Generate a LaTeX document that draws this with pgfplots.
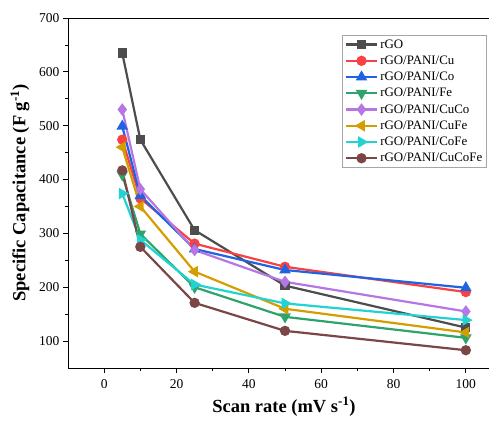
\documentclass[border=0pt]{standalone}
\usepackage{fontspec}
\setmainfont{Liberation Serif}
\usepackage{pgfplots}
\pgfplotsset{compat=1.18}
\definecolor{cGO}{HTML}{4D4D4D}
\definecolor{cCu}{HTML}{F94144}
\definecolor{cCo}{HTML}{1F63E0}
\definecolor{cFe}{HTML}{2EA36B}
\definecolor{cCuCo}{HTML}{B676E3}
\definecolor{cCuFe}{HTML}{D49E00}
\definecolor{cCoFe}{HTML}{22D3D1}
\definecolor{cCuCoFe}{HTML}{7A4646}
\begin{document}
\begin{tikzpicture}
\begin{axis}[
  scale only axis, width=421pt, height=350pt,
  xmin=-10, xmax=106.4, ymin=50, ymax=700,
  xtick={0,20,...,100}, minor x tick num=1,
  ytick={100,200,...,700}, minor y tick num=1,
  axis x line*=box, axis y line*=left,
  xtick pos=bottom, ytick pos=left,
  tick align=outside, major tick length=5pt, minor tick length=3pt,
  tick style={black, line width=0.8pt},
  axis line style={black, line width=1pt},
  tick label style={font=\fontsize{13.5}{14}\selectfont},
  xticklabel style={yshift=-3pt},
  /pgf/number format/assume math mode=true,
  xlabel={\textbf{Scan rate (mV s\textsuperscript{-1})}},
  ylabel={\textbf{Specific Capacitance (F g\textsuperscript{-1})}},
  label style={font=\fontsize{18.5}{19}\selectfont},
  xlabel style={at={(axis description cs:0.513,-0.126)}, anchor=base},
  ylabel style={at={(axis description cs:-0.114,0.5)}, anchor=center},
  every axis plot/.append style={line width=2.2pt, mark size=4pt},
  legend style={at={(0.9945,0.951)}, anchor=north east, draw=gray!70, line width=0.8pt,
    font=\fontsize{12.9}{15}\selectfont, row sep=2.2pt, inner sep=2pt, cells={anchor=west}},
  legend image code/.code={\draw[mark repeat=2,mark phase=2] plot coordinates {(0cm,0cm) (0.55cm,0cm) (1.1cm,0cm)};},
]
\addplot[color=cGO, mark=square*, mark size=3.5pt] coordinates {(5,635) (10,474) (25,306) (50,203) (100,125)};
\addlegendentry{rGO}
\addplot[color=cCu, mark=*] coordinates {(5,474) (10,365) (25,281) (50,238) (100,191)};
\addlegendentry{rGO/PANI/Cu}
\addplot[color=cCo, mark=triangle*, mark size=4.5pt] coordinates {(5,499) (10,370) (25,271) (50,232) (100,199)};
\addlegendentry{rGO/PANI/Co}
\addplot[color=cFe, mark=triangle*, mark size=4.5pt, mark options={rotate=180}] coordinates {(5,409) (10,299) (25,200) (50,145) (100,106)};
\addlegendentry{rGO/PANI/Fe}
\addplot[color=cCuCo, mark=diamond*, mark size=4.5pt] coordinates {(5,530) (10,382) (25,269) (50,210) (100,155)};
\addlegendentry{rGO/PANI/CuCo}
\addplot[color=cCuFe, mark=triangle*, mark size=4.5pt, mark options={rotate=90}] coordinates {(5,460) (10,350) (25,229) (50,160) (100,116)};
\addlegendentry{rGO/PANI/CuFe}
\addplot[color=cCoFe, mark=triangle*, mark size=4.5pt, mark options={rotate=-90}] coordinates {(5,374) (10,288) (25,205) (50,170) (100,139)};
\addlegendentry{rGO/PANI/CoFe}
\addplot[color=cCuCoFe, mark=*] coordinates {(5,417) (10,275) (25,171) (50,119) (100,83)};
\addlegendentry{rGO/PANI/CuCoFe}
\end{axis}
\pgfresetboundingbox
\path[use as bounding box] (-68pt,-57pt) rectangle (421pt,368pt);
\end{tikzpicture}
\end{document}
